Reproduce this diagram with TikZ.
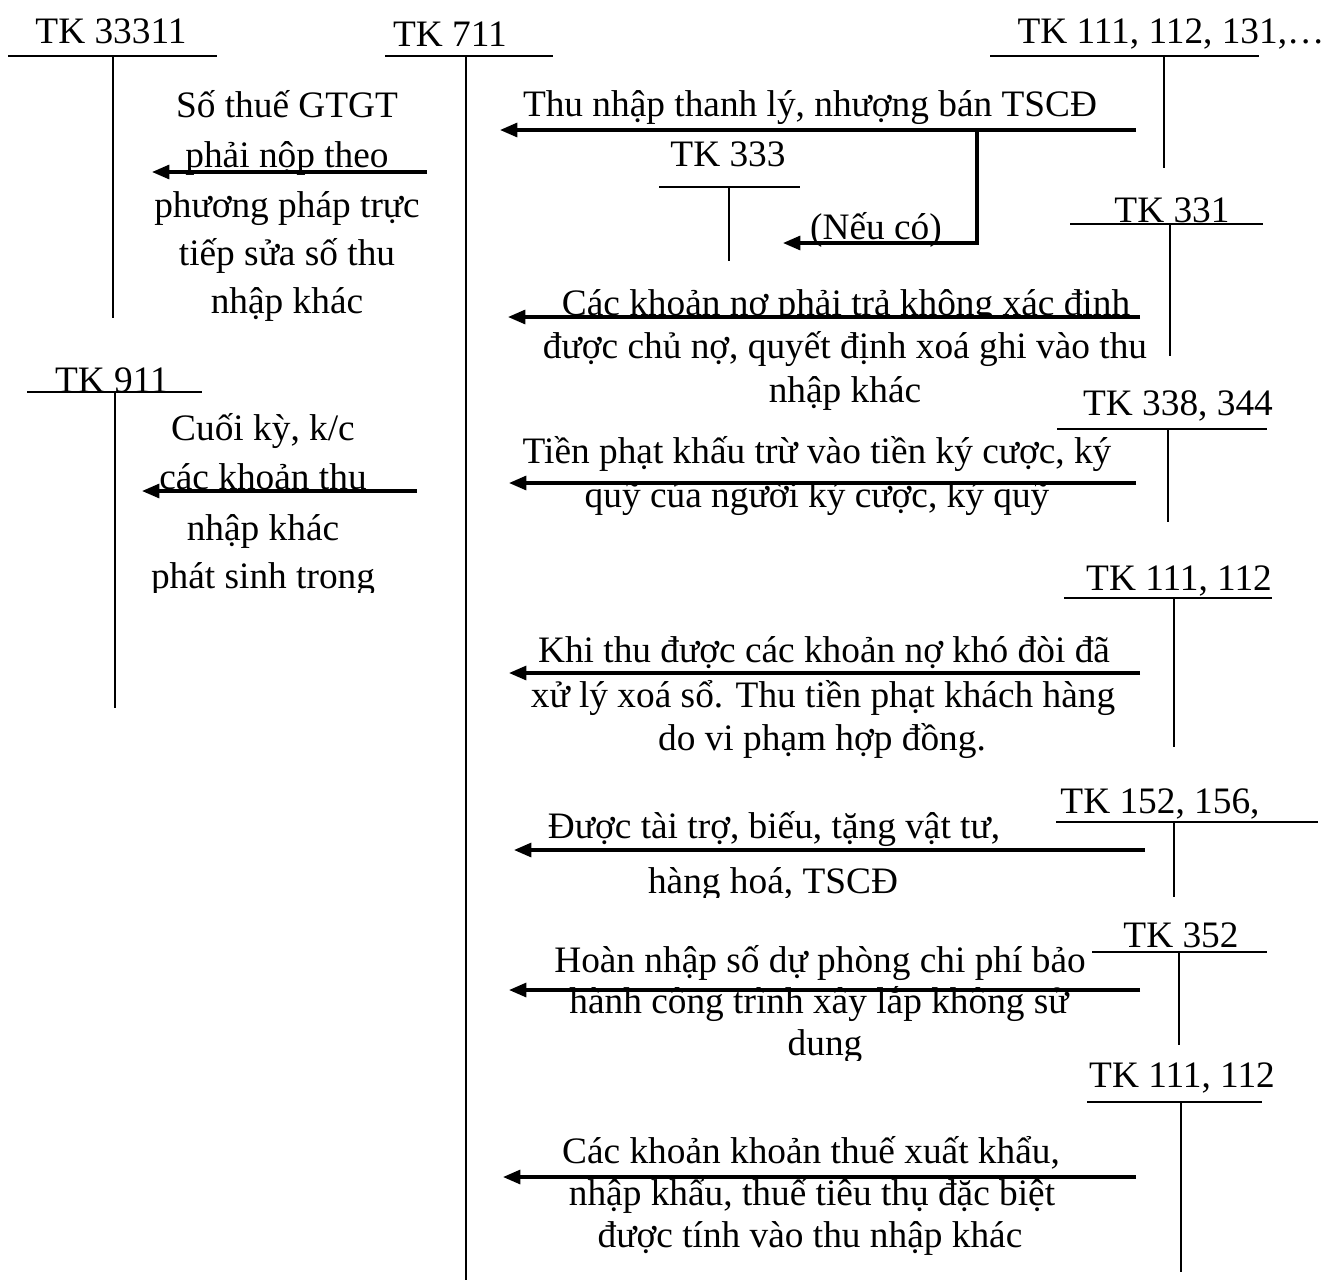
\documentclass[tikz,border=0pt]{standalone}
\usepackage{fontspec}
\setmainfont{Liberation Serif}
\usetikzlibrary{arrows.meta}
\newcommand\lblfont{\fontsize{28}{34}\selectfont}
% T-account: name, title, title x, title baseline, rule from x, rule to x, rule y, stem x, stem bottom
\newcommand\taccount[9]{%
  \node[lbl] (#1) at (#3,#4) {#2};
  \coordinate (#1-l) at (#5,#7);
  \coordinate (#1-r) at (#6,#7);
  \coordinate (#1-t) at (#8,#7);
  \coordinate (#1-b) at (#8,#9);
  \draw[rule] (#1-l) -- (#1-r);
  \draw[stem] (#1-t) -- (#1-b);}
\begin{document}
\begin{tikzpicture}[x=0.75pt,y=-0.75pt,
  lbl/.style={font=\lblfont, inner sep=0pt, anchor=base},
  rule/.style={line width=2.2pt},
  stem/.style={line width=1.5pt},
  flow/.style={line width=2.3pt, -{Triangle[length=13pt,width=10.5pt]}}]
\useasboundingbox[fill=white] (0,0) rectangle (1333,1282);

% ---- descriptions ----
\node[lbl] (l1a) at (287,117) {Số thuế GTGT};
\node[lbl] (l1b) at (287,167) {phải nộp theo};
\node[lbl] (l1c) at (287,217) {phương pháp trực};
\node[lbl] (l1d) at (287,265) {tiếp sửa số thu};
\node[lbl] (l1e) at (287,313) {nhập khác};

\node[lbl] (l2a) at (263,440) {Cuối kỳ, k/c};
\begin{scope}
  \clip (120,400) rectangle (430,491);
  \node[lbl] (l2b) at (263,489) {các khoản thu};
\end{scope}
\begin{scope}
  \clip (120,500) rectangle (430,592);
  \node[lbl] (l2c) at (263,540) {nhập khác};
  \node[lbl] (l2d) at (263,588) {phát sinh trong};
\end{scope}

\begin{scope}
  \clip (480,70) rectangle (1150,123);
  \node[lbl] (r1a) at (810,116) {Thu nhập thanh lý, nhượng bán TSCĐ};
\end{scope}
\node[lbl] (r1n) at (876,239) {(Nếu có)};

\begin{scope}
  \clip (480,270) rectangle (1160,318);
  \node[lbl] (r2a) at (846,315) {Các khoản nợ phải trả không xác định};
\end{scope}
\node[lbl] (r2b) at (845,358) {được chủ nợ, quyết định xoá ghi vào thu};
\node[lbl] (r2c) at (845,402) {nhập khác};

\begin{scope}
  \clip (480,420) rectangle (1160,478);
  \node[lbl] (r3a) at (817,463) {Tiền phạt khấu trừ vào tiền ký cược, ký};
\end{scope}
\node[lbl] (r3b) at (817,507) {quỹ của người ký cược, ký quỹ};

\node[lbl] (r4a) at (824,662) {Khi thu được các khoản nợ khó đòi đã};
\node[lbl] (r4b) at (823,707) {xử lý xoá sổ. Thu tiền phạt khách hàng};
\node[lbl] (r4c) at (822,750) {do vi phạm hợp đồng.};

\node[lbl] (r5a) at (774,838) {Được tài trợ, biếu, tặng vật tư,};
\begin{scope}
  \clip (600,855) rectangle (950,897);
  \node[lbl] (r5b) at (773,893) {hàng hoá, TSCĐ};
\end{scope}

\begin{scope}
  \clip (520,930) rectangle (1100,980);
  \node[lbl] (r6a) at (820,972) {Hoàn nhập số dự phòng chi phí bảo};
\end{scope}
\begin{scope}
  \clip (520,985) rectangle (1100,1060);
  \node[lbl] (r6b) at (819,1013) {hành công trình xây lắp không sử};
  \node[lbl] (r6c) at (825,1055) {dung};
\end{scope}

\node[lbl] (r7a) at (811,1163) {Các khoản khoản thuế xuất khẩu,};
\node[lbl] (r7b) at (812,1205) {nhập khẩu, thuế tiêu thụ đặc biệt};
\node[lbl] (r7c) at (810,1247) {được tính vào thu nhập khác};

% ---- accounts ----
\taccount{k33311}{TK 33311}{111}{43}{8}{217}{56}{113}{318}
\taccount{k711}{TK 711}{450}{46}{385}{553}{56}{466}{1280}
\taccount{k111a}{TK 111, 112, 131,…}{1171}{43}{990}{1259}{56}{1164}{168}
\taccount{k333}{TK 333}{728}{166}{659}{800}{187}{729}{261}
\taccount{k331}{TK 331}{1172}{222}{1070}{1263}{224}{1170}{356}
\taccount{k911}{TK 911}{112}{392}{27}{202}{392}{115}{708}
\taccount{k338}{TK 338, 344}{1178}{415}{1057}{1267}{429}{1168}{522}
\taccount{k111b}{TK 111, 112}{1179}{590}{1064}{1272}{598}{1174}{747}
\taccount{k152}{TK 152, 156,}{1160}{813}{1056}{1318}{822}{1174}{897}
\taccount{k352}{TK 352}{1181}{947}{1092}{1267}{952}{1179}{1045}
\taccount{k111c}{TK 111, 112}{1182}{1087}{1087}{1262}{1102}{1181}{1272}

% ---- entries ----
\coordinate (fL1s) at (427,172); \coordinate (fL1e) at (152,172);
\coordinate (fL2s) at (417,491); \coordinate (fL2e) at (142,491);
\coordinate (f1s) at (1136,130); \coordinate (f1e) at (500,130);
\coordinate (f1k) at (977,130);  \coordinate (f1c) at (977,243);
\coordinate (f1t) at (783,243);
\coordinate (f2s) at (1140,317); \coordinate (f2e) at (508,317);
\coordinate (f3s) at (1136,483); \coordinate (f3e) at (509,483);
\coordinate (f4s) at (1140,673); \coordinate (f4e) at (509,673);
\coordinate (f5s) at (1145,850); \coordinate (f5e) at (514,850);
\coordinate (f6s) at (1140,990); \coordinate (f6e) at (509,990);
\coordinate (f7s) at (1136,1177); \coordinate (f7e) at (503,1177);

\draw[flow] (fL1s) -- (fL1e);
\draw[flow] (fL2s) -- (fL2e);
\draw[flow] (f1s) -- (f1e);
\draw[flow] (f1k) -- (f1c) -- (f1t);
\draw[flow] (f2s) -- (f2e);
\draw[flow] (f3s) -- (f3e);
\draw[flow] (f4s) -- (f4e);
\draw[flow] (f5s) -- (f5e);
\draw[flow] (f6s) -- (f6e);
\draw[flow] (f7s) -- (f7e);
\end{tikzpicture}
\end{document}
